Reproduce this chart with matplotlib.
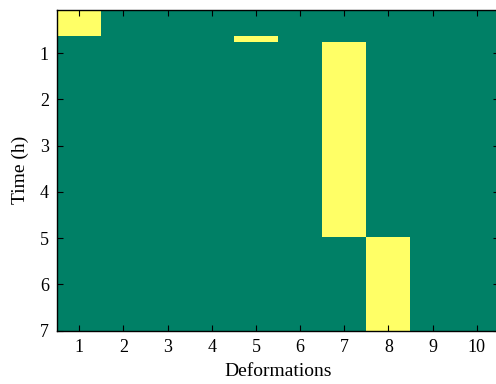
import numpy as np
import matplotlib
matplotlib.use("Agg")
import matplotlib.pyplot as plt

plt.rcParams['font.family'] = ['Liberation Serif', 'DejaVu Serif']

deformations = [1, 2, 3, 4, 5, 6, 7, 8, 9, 10]
time_edges = [0.07, 0.64, 0.76, 4.97, 7.0]
# rows: time bands (top to bottom), columns: deformations 1..10 (1 = active)
band_0 = [1, 0, 0, 0, 0, 0, 0, 0, 0, 0]
band_1 = [0, 0, 0, 0, 1, 0, 0, 0, 0, 0]
band_2 = [0, 0, 0, 0, 0, 0, 1, 0, 0, 0]
band_3 = [0, 0, 0, 0, 0, 0, 0, 1, 0, 0]
yticks = [1, 2, 3, 4, 5, 6, 7]

values = np.array([band_0, band_1, band_2, band_3], dtype=float)
x_edges = np.arange(len(deformations) + 1) + 0.5

fig = plt.figure(figsize=(4.96, 3.84), dpi=100)
ax = fig.add_axes([57.2 / 496, 1 - 330.7 / 384, 441.6 / 496, (330.7 - 10) / 384])
ax.pcolormesh(x_edges, time_edges, values, cmap='summer', vmin=0, vmax=1)
ax.set_xlim(0.5, 10.5)
ax.set_ylim(7.0, 0.07)
ax.set_xticks(deformations)
ax.set_yticks(yticks)
ax.tick_params(direction='in', top=True, right=True, length=4, width=0.8,
               labelsize=13, pad=6)
for s in ax.spines.values():
    s.set_linewidth(1.0)
ax.set_xlabel('Deformations', fontsize=14, labelpad=5)
ax.set_ylabel('Time (h)', fontsize=14, labelpad=8)
fig.savefig('out.png', dpi=100)
